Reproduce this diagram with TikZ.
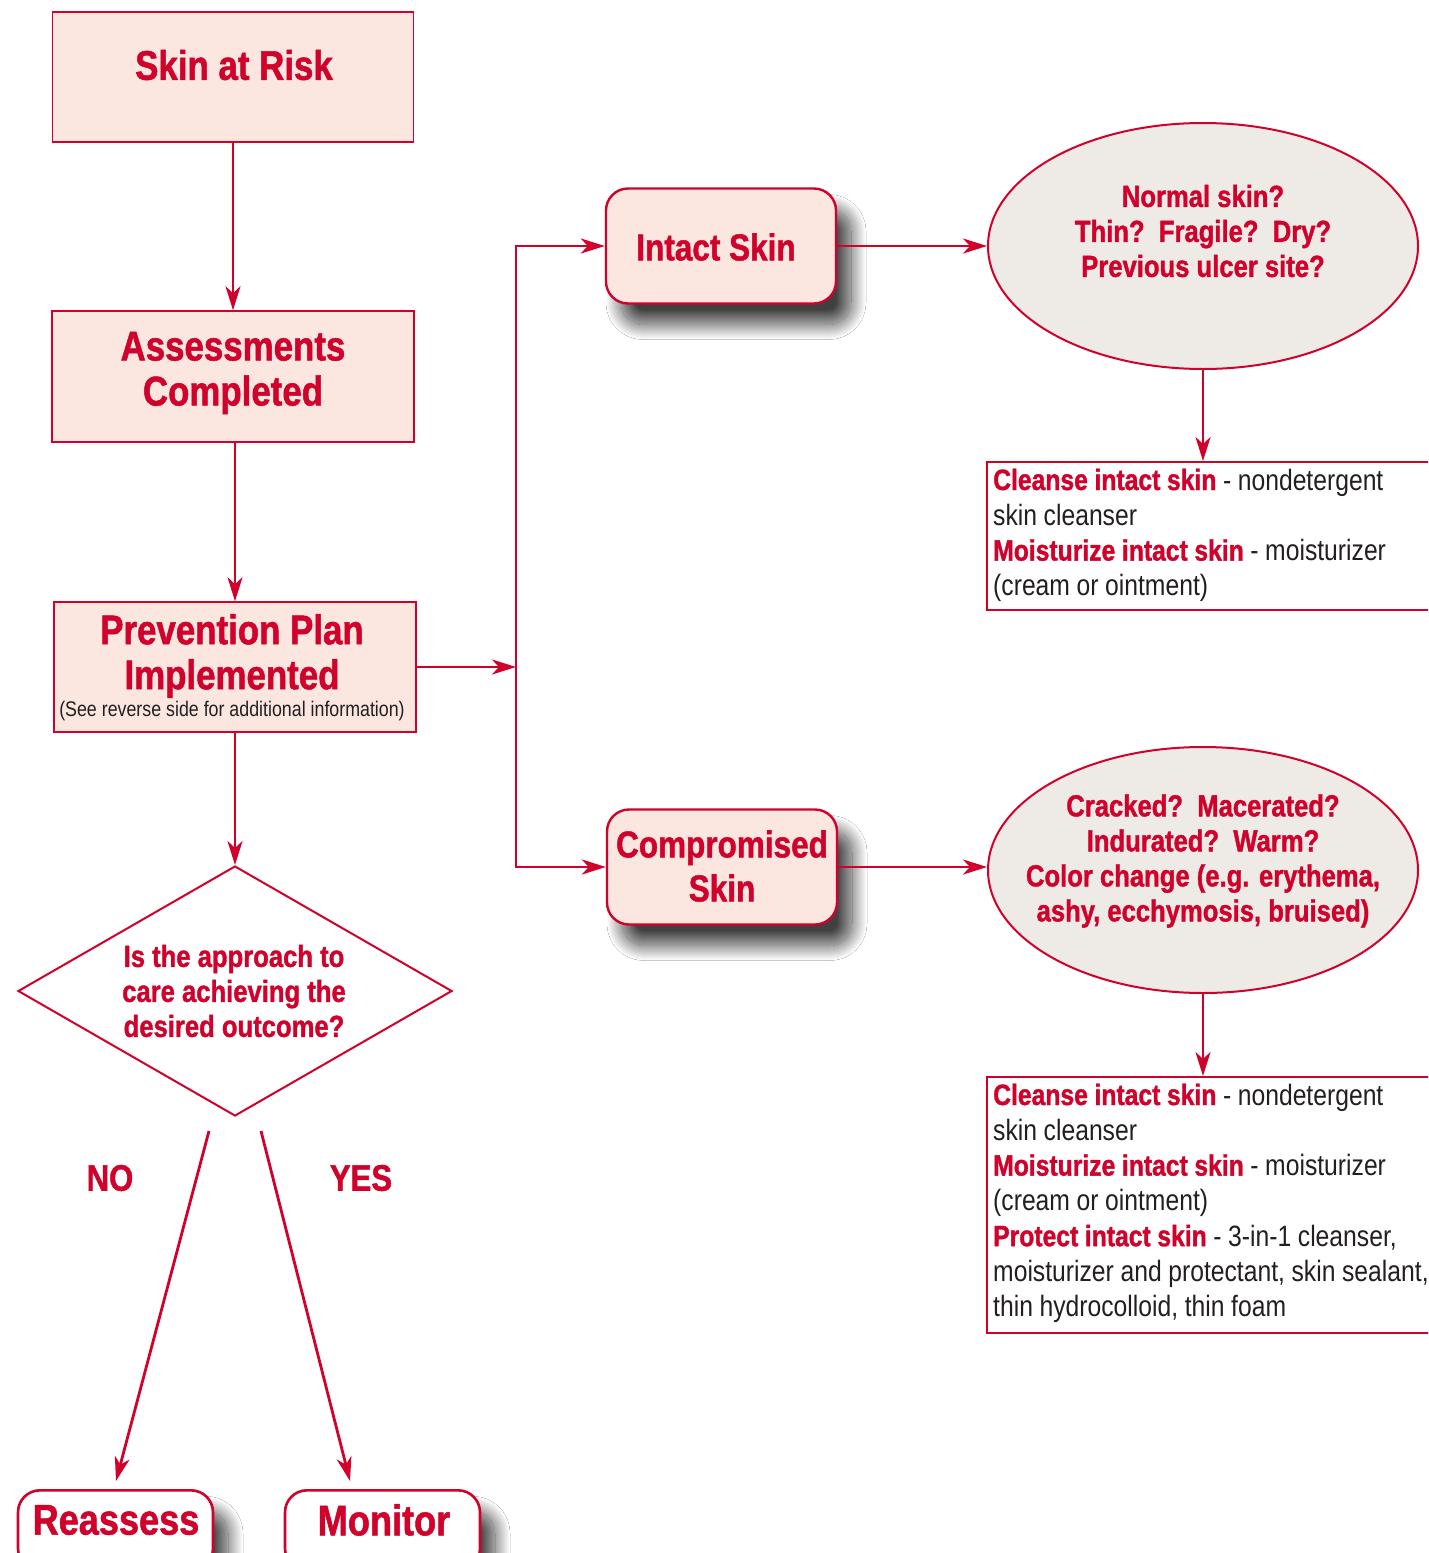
\documentclass[tikz,border=0pt]{standalone}
\usepackage{fontspec}
\setmainfont{Liberation Sans}[FakeStretch=0.84, BoldFeatures={FakeBold=1.2}]
\usetikzlibrary{arrows.meta,shapes.geometric,shadows.blur,calc}
\definecolor{cred}{HTML}{D0022C}
\definecolor{cpink}{HTML}{FBE6E0}
\definecolor{cgray}{HTML}{EEEAE6}
\definecolor{cblack}{HTML}{231F20}
\tikzset{
  arr/.style={draw=cred, line width=2.8pt, -{Stealth[length=24pt,width=15pt,inset=7pt]}},
  pinkbox/.style={draw=cred, fill=cpink, line width=1.6pt, inner sep=0pt},
  shd/.style={blur shadow={shadow xshift=15pt, shadow yshift=-21pt, shadow blur radius=15pt,
     shadow blur steps=30, shadow opacity=75}},
  rbox/.style={draw=cred, fill=cpink, line width=2.4pt, rounded corners=22pt, inner sep=0pt, shd},
  wbox/.style={draw=cred, fill=white, line width=2.6pt, rounded corners=22pt, inner sep=0pt, shd},
  ell/.style={ellipse, draw=cred, fill=cgray, line width=2pt, inner sep=0pt},
  frame/.style={draw=cred, fill=white, line width=2pt, inner sep=0pt},
  ttl/.style={font=\fontsize{41.5}{45}\selectfont\bfseries, text=cred, align=center, inner sep=0pt},
  rtxt/.style={font=\fontsize{37.5}{44}\selectfont\bfseries, text=cred, align=center, inner sep=0pt},
  btxt/.style={font=\fontsize{43}{48}\selectfont\bfseries, text=cred, align=center, inner sep=0pt},
  yn/.style={font=\fontsize{37}{40}\selectfont\bfseries, text=cred, inner sep=0pt},
  etxt/.style={font=\fontsize{30.5}{35}\selectfont\bfseries, text=cred, align=center, inner sep=0pt},
  note/.style={font=\fontsize{21.2}{24}\selectfont, text=cblack, inner sep=0pt},
  ctxt/.style={font=\fontsize{29.4}{35.3}\selectfont,
     text=cblack, text width=600pt, align=left, inner sep=0pt},
}
\newcommand{\rb}[1]{{\color{cred}\bfseries #1}}
\newcommand{\tightsp}{\spaceskip=6.6pt plus 1pt minus 1pt\relax}
\begin{document}
\begin{tikzpicture}[x=1pt,y=-1pt]
\useasboundingbox (0,0) rectangle (1428,1553);
\fill[white] (0,0) rectangle (1428,1553);
\clip (0,0) rectangle (1428,1553);

% left column
\node[pinkbox, minimum width=361pt, minimum height=130pt] (risk) at (233,77) {};
\node[ttl] (risktxt) at (234,65) {Skin at Risk};
\node[pinkbox, minimum width=362pt, minimum height=131pt] (assess) at (233,376.5) {};
\node[ttl] (assesstxt) at (233,373) {Assessments\\Completed};
\node[pinkbox, minimum width=362pt, minimum height=130pt] (prev) at (235,667) {};
\node[ttl] (prevtxt) at (232,656) {Prevention Plan\\Implemented};
\node[note] (prevnote) at (232,711) {(See reverse side for additional information)};

\draw[arr] (risk.south) -- (assess.north);
\draw[arr] (assess.south -| prev.north) -- (prev.north);

% diamond
\node[diamond, draw=cred, fill=white, line width=2pt, minimum width=434pt, minimum height=250pt,
      shape aspect=1.736, inner sep=0pt] (dia) at (235,991) {};
\node[etxt] (diatxt) at (234,991) {Is the approach to\\care achieving the\\desired outcome?};
\draw[arr] (prev.south) -- (dia.north);

\node[yn] (no) at (110,1178) {NO};
\node[yn] (yes) at (361,1178) {YES};
\coordinate (nos) at (209,1131);
\coordinate (noe) at (116,1481);
\coordinate (yess) at (261,1131);
\coordinate (yese) at (350,1481);
\draw[arr] (nos) -- (noe);
\draw[arr] (yess) -- (yese);

\node[wbox, minimum width=195pt, minimum height=80pt, anchor=north] (reassess) at (115.5,1489) {};
\node[btxt] (reassesstxt) at (116,1520) {Reassess};
\node[wbox, minimum width=195pt, minimum height=80pt, anchor=north] (monitor) at (382.5,1489) {};
\node[btxt] (monitortxt) at (384,1520) {Monitor};

% branch
\coordinate (junc) at (516,667);
\node[rbox, minimum width=230pt, minimum height=115pt] (intact) at (721,246) {};
\node[rtxt] (intacttxt) at (716,247) {Intact Skin};
\node[rbox, minimum width=230pt, minimum height=115pt] (comp) at (722,867) {};
\node[rtxt] (comptxt) at (722,866) {Compromised\\Skin};
\draw[arr] (prev.east) -- (junc);
\draw[arr] (junc) |- (intact.west);
\draw[arr] (junc) |- (comp.west);

% ellipses
\node[ell, minimum width=430pt, minimum height=246pt] (e1) at (1203,246) {};
\node[etxt] (e1txt) at (1203,231) {Normal skin?\\Thin?\ \ Fragile?\ \ Dry?\\Previous ulcer site?};
\node[ell, minimum width=430pt, minimum height=246pt] (e2) at (1203,870) {};
\node[etxt] (e2txt) at (1203,861) {Cracked?\ \ Macerated?\\Indurated?\ \ Warm?\\Color change (e.g. erythema,\\ashy, ecchymosis, bruised)};
\draw[arr] (intact.east) -- (e1.west);
\draw[arr] (comp.east) -- (comp.east -| e2.west);

% care boxes
\node[frame, anchor=north west, minimum width=470pt, minimum height=148pt] (care1) at (986,461) {};
\node[ctxt, anchor=base west] (care1txt) at (993,490) {\tightsp\rb{Cleanse intact skin} - nondetergent\\skin cleanser\\\rb{Moisturize intact skin} - moisturizer\\(cream or ointment)};
\node[frame, anchor=north west, minimum width=470pt, minimum height=256pt] (care2) at (986,1076) {};
\node[ctxt, anchor=base west] (care2txt) at (993,1105) {\tightsp\rb{Cleanse intact skin} - nondetergent\\skin cleanser\\\rb{Moisturize intact skin} - moisturizer\\(cream or ointment)\\\rb{Protect intact skin} - 3-in-1 cleanser,\\moisturizer and protectant, skin sealant,\\thin hydrocolloid, thin foam};
\draw[arr] (e1.south) -- (e1.south |- care1.north);
\draw[arr] (e2.south) -- (e2.south |- care2.north);
\end{tikzpicture}
\end{document}
